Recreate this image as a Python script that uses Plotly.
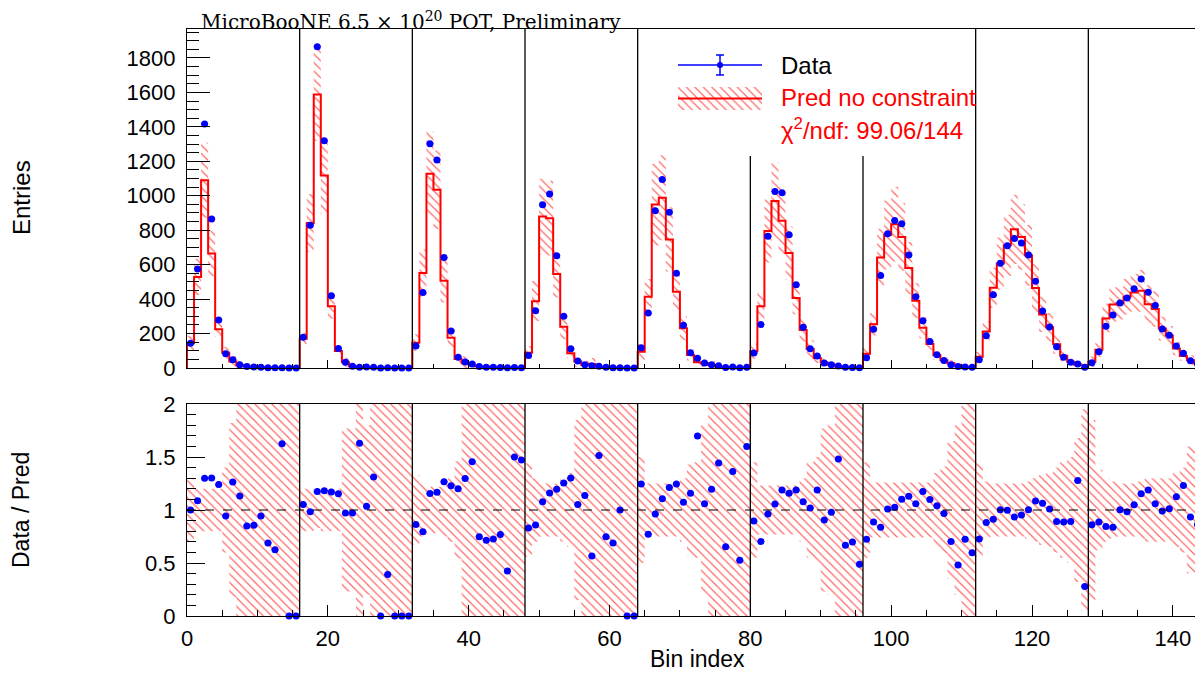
import plotly.graph_objects as go
import numpy as np

# ---------------- data ----------------
n_bins = 144
group_size = 16

data_g1 = [144, 575, 1417, 865, 279, 83, 48, 19, 9, 6, 5, 2, 1, 2, 0, 0]
data_g2 = [179, 829, 1865, 1319, 419, 113, 33, 10, 5, 6, 4, 0, 1, 0, 0, 0]
data_g3 = [127, 438, 1302, 1208, 642, 215, 63, 35, 23, 8, 5, 4, 3, 1, 3, 2]
data_g4 = [73, 333, 948, 1010, 652, 300, 112, 40, 19, 13, 10, 4, 2, 2, 0, 0]
data_g5 = [117, 319, 913, 1094, 904, 550, 248, 88, 56, 29, 19, 13, 3, 6, 1, 4]
data_g6 = [87, 252, 765, 1025, 1017, 773, 483, 237, 112, 69, 29, 19, 12, 4, 3, 1]
data_g7 = [60, 225, 537, 779, 856, 838, 656, 413, 275, 154, 77, 44, 19, 8, 6, 4]
data_g8 = [48, 187, 425, 608, 710, 752, 725, 656, 504, 331, 238, 123, 63, 33, 23, 4]
data_g9 = [31, 94, 242, 308, 377, 406, 460, 517, 440, 363, 227, 190, 127, 85, 42, 25]

pred_g1 = [144, 529, 1090, 665, 225, 88, 38, 16.8, 10.6, 7.0, 5.3, 2.9, 1.6, 1.23, 1.0, 0.8]
pred_g2 = [170, 842, 1588, 1117, 358, 98, 34, 10.3, 3.07, 5.8, 3.05, 2.0, 2.56, 1.5, 1.3, 1.2]
pred_g3 = [147, 551, 1127, 1035, 507, 175, 52.5, 27, 15.8, 10.7, 7.0, 5.5, 3.9, 2.35, 2.0, 1.36]
pred_g4 = [88, 388, 879, 870, 545, 239, 86, 38, 16.7, 23, 6.6, 5.35, 2.9, 2.0, 1.5, 1.2]
pred_g5 = [94, 413, 949, 988, 746, 442, 231, 76, 33, 27.4, 15.9, 9.0, 4.6, 4.4, 1.9, 2.5]
pred_g6 = [97, 358, 795, 970, 855, 668, 406, 220, 110, 58, 32, 19.4, 8.1, 6.0, 4.3, 2.05]
pred_g7 = [83, 254, 642, 772, 835, 761, 581, 390, 234, 140, 74, 45.5, 27, 16.6, 8.3, 6.7]
pred_g8 = [66, 212, 466, 606, 712, 805, 761, 654, 465, 311, 236, 138, 71, 37, 18, 14.4]
pred_g9 = [36, 106, 287, 368, 376, 413, 438, 448, 370, 343, 229, 188, 113, 69, 45, 29]

# relative uncertainty of the prediction (half-width of the band in Data/Pred)
relerr_g1 = [0.30, 0.20, 0.20, 0.20, 0.20, 0.40, 0.82, 1.5, 1.5, 1.5, 1.5, 1.5, 1.5, 1.5, 1.5, 1.5]
relerr_g2 = [0.20, 0.20, 0.17, 0.20, 0.20, 0.20, 0.77, 0.77, 1.5, 0.8, 1.5, 1.5, 1.5, 1.5, 1.5, 1.5]
relerr_g3 = [0.33, 0.25, 0.22, 0.22, 0.25, 0.30, 0.46, 1.5, 1.5, 1.5, 1.5, 1.5, 1.5, 1.5, 1.5, 1.5]
relerr_g4 = [0.44, 0.30, 0.25, 0.25, 0.25, 0.30, 0.35, 0.85, 1.5, 1.5, 1.5, 1.5, 1.5, 1.5, 1.5, 1.5]
relerr_g5 = [0.50, 0.25, 0.25, 0.25, 0.25, 0.25, 0.30, 0.43, 0.45, 0.80, 1.5, 1.5, 1.5, 1.5, 1.5, 1.5]
relerr_g6 = [0.45, 0.23, 0.23, 0.23, 0.23, 0.23, 0.23, 0.30, 0.45, 0.50, 0.77, 0.80, 1.5, 1.5, 1.5, 1.5]
relerr_g7 = [0.45, 0.26, 0.26, 0.26, 0.26, 0.26, 0.26, 0.26, 0.26, 0.26, 0.35, 0.41, 0.65, 0.80, 1.05, 1.5]
relerr_g8 = [0.44, 0.27, 0.25, 0.25, 0.25, 0.25, 0.25, 0.27, 0.30, 0.33, 0.35, 0.40, 0.45, 0.50, 0.68, 0.95]
relerr_g9 = [0.85, 0.38, 0.30, 0.27, 0.25, 0.25, 0.25, 0.27, 0.30, 0.30, 0.30, 0.30, 0.35, 0.40, 0.60, 0.60]

data = np.array(data_g1 + data_g2 + data_g3 + data_g4 + data_g5 + data_g6 + data_g7 + data_g8 + data_g9, float)
pred = np.array(pred_g1 + pred_g2 + pred_g3 + pred_g4 + pred_g5 + pred_g6 + pred_g7 + pred_g8 + pred_g9, float)
relerr = np.array(relerr_g1 + relerr_g2 + relerr_g3 + relerr_g4 + relerr_g5 + relerr_g6 + relerr_g7 + relerr_g8 + relerr_g9, float)

title_text = "MicroBooNE 6.5 × 10<sup>20</sup> POT, Preliminary"
legend_data = "Data"
legend_pred = "Pred no constraint"
legend_chi2 = "χ<sup>2</sup>/ndf: 99.06/144"

# ---------------- geometry (page pixels) ----------------
W, H = 1203, 675
OFF = 8                                  # default page body margin
PL, PR, PT, PB = 187, 1201, 29, 616      # plot area in page pixels
TOP_LOW = 368                            # bottom of upper pad
BOT_HIGH = 404                           # top of lower pad
YMAX_TOP = 1968

def pxx(x):
    return (x - PL) / (PR - PL)

def pxy(y):
    return (PB - y) / (PB - PT)

RED = "#ff0000"
BLUE = "#0000ff"
FONT = "Liberation Sans, Arial, sans-serif"

edges = np.arange(n_bins + 1)
centers = edges[:-1] + 0.5

# step outline of the prediction
step_x, step_y = [0.0], [0.0]
for i in range(n_bins):
    step_x += [edges[i], edges[i + 1]]
    step_y += [pred[i], pred[i]]
step_x.append(float(n_bins))
step_y.append(0.0)

def band_polygon(lo, hi):
    bx, by = [], []
    for i in range(n_bins):
        bx += [edges[i], edges[i + 1]]
        by += [hi[i], hi[i]]
    for i in range(n_bins - 1, -1, -1):
        bx += [edges[i + 1], edges[i]]
        by += [lo[i], lo[i]]
    bx.append(bx[0]); by.append(by[0])
    return bx, by

up = pred * (1 + relerr)
lo = np.clip(pred * (1 - relerr), 0, None)
band_x, band_y = band_polygon(lo, up)

r_up = np.clip(1 + relerr, 0, 2)
r_lo = np.clip(1 - relerr, 0, 2)
rband_x, rband_y = band_polygon(r_lo, r_up)

ratio = data / pred

hatch = dict(shape="\\", fgcolor=RED, fgopacity=0.6, bgcolor="rgba(0,0,0,0)",
             size=6, solidity=0.2, fillmode="overlay")

fig = go.Figure()

# upper pad
fig.add_trace(go.Scatter(x=band_x, y=band_y, xaxis="x2", yaxis="y2", mode="lines",
                         line=dict(width=0, color="rgba(0,0,0,0)"), fill="toself",
                         fillcolor="rgba(0,0,0,0)", fillpattern=hatch, hoverinfo="skip",
                         showlegend=False))
fig.add_trace(go.Scatter(x=step_x, y=step_y, xaxis="x2", yaxis="y2", mode="lines",
                         line=dict(color=RED, width=2), showlegend=False))
fig.add_trace(go.Scatter(x=centers, y=data, xaxis="x2", yaxis="y2", mode="markers",
                         marker=dict(color=BLUE, size=7),
                         error_x=dict(type="constant", value=0.5, color=BLUE, thickness=1, width=0),
                         cliponaxis=False, showlegend=False))

# lower pad
fig.add_trace(go.Scatter(x=rband_x, y=rband_y, xaxis="x", yaxis="y", mode="lines",
                         line=dict(width=0, color="rgba(0,0,0,0)"), fill="toself",
                         fillcolor="rgba(0,0,0,0)", fillpattern=hatch, hoverinfo="skip",
                         showlegend=False))
fig.add_trace(go.Scatter(x=centers, y=ratio, xaxis="x", yaxis="y", mode="markers",
                         marker=dict(color=BLUE, size=7),
                         error_x=dict(type="constant", value=0.5, color=BLUE, thickness=1, width=0),
                         cliponaxis=False, showlegend=False))

# legend drawn in pixel space (overlay axes x3/y3)
LEG_X0, LEG_X1 = 678, 762
fig.add_trace(go.Scatter(x=[LEG_X0, LEG_X1], y=[65, 65],
                         xaxis="x3", yaxis="y3", mode="lines", line=dict(color=BLUE, width=1.5),
                         showlegend=False, hoverinfo="skip"))
ex = (LEG_X0 + LEG_X1) / 2
fig.add_trace(go.Scatter(x=[ex], y=[65], xaxis="x3", yaxis="y3", mode="markers",
                         marker=dict(color=BLUE, size=6),
                         error_y=dict(type="constant", value=10, color=BLUE, thickness=1.5, width=4),
                         showlegend=False, hoverinfo="skip", cliponaxis=False))
fig.add_trace(go.Scatter(x=[LEG_X0, LEG_X1, LEG_X1, LEG_X0, LEG_X0], y=[87, 87, 110, 110, 87],
                         xaxis="x3", yaxis="y3", mode="lines", line=dict(width=0, color="rgba(0,0,0,0)"),
                         fill="toself", fillcolor="rgba(0,0,0,0)", fillpattern=hatch,
                         showlegend=False, hoverinfo="skip"))
fig.add_trace(go.Scatter(x=[LEG_X0, LEG_X1], y=[98.5, 98.5], xaxis="x3", yaxis="y3", mode="lines",
                         line=dict(color=RED, width=2), showlegend=False, hoverinfo="skip"))

# group separators
LEGEND_BOX = (640, 975, 156)  # x0, x1 pixel and bottom pixel of legend box
shapes = []
for k in range(1, n_bins // group_size):
    xb = k * group_size
    xpix = PL + xb * (PR - PL) / n_bins
    ytop = LEGEND_BOX[2] if LEGEND_BOX[0] < xpix < LEGEND_BOX[1] else PT
    shapes.append(dict(type="line", xref="x2", yref="y3", x0=xb, x1=xb, y0=TOP_LOW, y1=ytop,
                       line=dict(color="black", width=1.3), layer="above"))
    shapes.append(dict(type="line", xref="x", yref="y", x0=xb, x1=xb, y0=0, y1=2,
                       line=dict(color="black", width=1.3), layer="above"))
shapes.append(dict(type="line", xref="x", yref="y", x0=0, x1=n_bins, y0=1, y1=1,
                   line=dict(color="black", width=1, dash="dash"), layer="above"))

def note(text, x, y, size, color="black", xanchor="left", angle=0, family=FONT):
    return dict(text=text, x=pxx(x), y=pxy(y), xref="paper", yref="paper",
                xanchor=xanchor, yanchor="middle", textangle=angle, showarrow=False,
                font=dict(family=family, size=size, color=color))

annotations = [
    note(title_text, 199, 21, 20, family="DejaVu Serif, Liberation Serif, serif"),
    note("Entries", 21, 198, 24, xanchor="center", angle=-90),
    note("Data / Pred", 21, 510, 23, xanchor="center", angle=-90),
    note("Bin index", 697, 659, 23, xanchor="center"),
    note(legend_data, 779, 65, 24),
    note(legend_pred, 779, 98, 24, color=RED),
    note(legend_chi2, 779, 129, 24, color=RED),
]

axis_common = dict(showline=True, mirror=True, linecolor="black", linewidth=1.2,
                   showgrid=False, zeroline=False, ticks="inside", tickcolor="black",
                   tickfont=dict(family=FONT, size=22, color="black"))

top_y0 = (PB - TOP_LOW) / (PB - PT)
bot_y1 = (PB - BOT_HIGH) / (PB - PT)

fig.update_layout(
    width=W - OFF, height=H - OFF,
    margin=dict(l=PL - OFF, r=W - PR, t=PT - OFF, b=H - PB, pad=0),
    paper_bgcolor="white", plot_bgcolor="white",
    showlegend=False,
    xaxis=dict(domain=[0, 1], anchor="y", range=[0, n_bins], tick0=0, dtick=20, ticklen=11,
               minor=dict(dtick=5, ticklen=6, ticks="inside", tickcolor="black"),
               ticklabelstandoff=2, **axis_common),
    yaxis=dict(domain=[0, bot_y1], anchor="x", range=[0, 2], tick0=0, dtick=0.5, ticklen=18,
               minor=dict(dtick=0.1, ticklen=9, ticks="inside", tickcolor="black"),
               ticklabelstandoff=6, **axis_common),
    xaxis2=dict(domain=[0, 1], anchor="y2", range=[0, n_bins], tick0=0, dtick=20, ticklen=8,
                minor=dict(dtick=5, ticklen=4, ticks="inside", tickcolor="black"),
                showticklabels=False, matches="x", **axis_common),
    yaxis2=dict(domain=[top_y0, 1], anchor="x2", range=[0, YMAX_TOP], tick0=0, dtick=200, ticklen=23,
                minor=dict(dtick=50, ticklen=12, ticks="inside", tickcolor="black"),
                ticklabelstandoff=6, **axis_common),
    xaxis3=dict(overlaying="x2", range=[PL, PR], visible=False, anchor="y3"),
    yaxis3=dict(overlaying="y2", range=[TOP_LOW, PT], visible=False, anchor="x3"),
    shapes=shapes,
    annotations=annotations,
)

fig.write_html("out.html")
